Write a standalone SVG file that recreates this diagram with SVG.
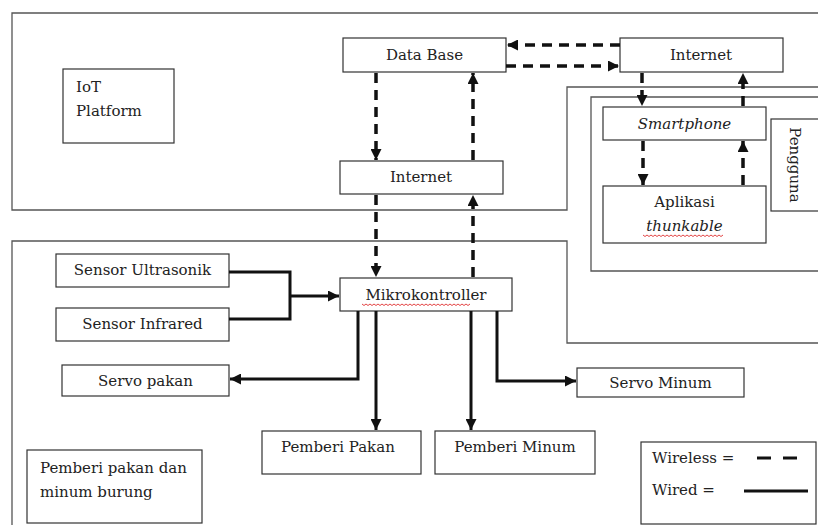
<svg xmlns="http://www.w3.org/2000/svg" width="818" height="525" viewBox="0 0 818 525">
<defs>
<style>
.box{fill:#fff;stroke:#333;stroke-width:1.2}
.frame{fill:none;stroke:#555;stroke-width:1.3}
.t{font-family:"DejaVu Serif","Liberation Serif",serif;font-size:15px;fill:#222}
.c{text-anchor:middle}
.i{font-style:italic}
.dash{fill:none;stroke:#111;stroke-width:3.5;stroke-dasharray:10 7}
.wire{fill:none;stroke:#111;stroke-width:3}
.wavy{fill:none;stroke:#e03030;stroke-width:0.9}
</style>
<marker id="ah" markerUnits="userSpaceOnUse" markerWidth="11" markerHeight="11" refX="10" refY="5" orient="auto" viewBox="0 0 10 10">
<path d="M0,0 L10,5 L0,10 z" fill="#111"/>
</marker>
</defs>

<g id="frames">
<path class="frame" d="M818,13 H12 V210 H567 V87 H818"/>
<path class="frame" d="M12,525 V241 H567 V343 H818"/>
<path class="frame" d="M818,97 H591 V271 H818"/>
</g>

<g id="iot-platform">
<rect class="box" x="63" y="69" width="111" height="74"/>
<text class="t" x="76" y="92">IoT</text>
<text class="t" x="76" y="116">Platform</text>
</g>

<g id="database">
<rect class="box" x="343" y="38" width="163" height="34"/>
<text class="t c" x="424.5" y="60">Data Base</text>
</g>

<g id="internet-top">
<rect class="box" x="620" y="38" width="163" height="34"/>
<text class="t c" x="701" y="60">Internet</text>
</g>

<g id="internet-mid">
<rect class="box" x="340" y="161" width="163" height="33"/>
<text class="t c" x="421" y="182">Internet</text>
</g>

<g id="mikrokontroller">
<rect class="box" x="340" y="278" width="172" height="33"/>
<text class="t c" x="426" y="300">Mikrokontroller</text>
<path class="wavy" d="M362,304 l2,1.5 l2,-1.5 l2,1.5 l2,-1.5 l2,1.5 l2,-1.5 l2,1.5 l2,-1.5 l2,1.5 l2,-1.5 l2,1.5 l2,-1.5 l2,1.5 l2,-1.5 l2,1.5 l2,-1.5 l2,1.5 l2,-1.5 l2,1.5 l2,-1.5 l2,1.5 l2,-1.5 l2,1.5 l2,-1.5 l2,1.5 l2,-1.5 l2,1.5 l2,-1.5 l2,1.5 l2,-1.5 l2,1.5 l2,-1.5 l2,1.5 l2,-1.5 l2,1.5 l2,-1.5 l2,1.5 l2,-1.5 l2,1.5 l2,-1.5 l2,1.5 l2,-1.5 l2,1.5 l2,-1.5 l2,1.5 l2,-1.5 l2,1.5 l2,-1.5 l2,1.5 l2,-1.5 l2,1.5 l2,-1.5 l2,1.5 l2,-1.5"/>
</g>

<g id="smartphone">
<rect class="box" x="603" y="107" width="163" height="33"/>
<text class="t c i" x="684.5" y="129">Smartphone</text>
</g>

<g id="aplikasi">
<rect class="box" x="603" y="186" width="163" height="57"/>
<text class="t c" x="684.5" y="207">Aplikasi</text>
<text class="t c i" x="684.5" y="231">thunkable</text>
<path class="wavy" d="M643,235 l2,1.5 l2,-1.5 l2,1.5 l2,-1.5 l2,1.5 l2,-1.5 l2,1.5 l2,-1.5 l2,1.5 l2,-1.5 l2,1.5 l2,-1.5 l2,1.5 l2,-1.5 l2,1.5 l2,-1.5 l2,1.5 l2,-1.5 l2,1.5 l2,-1.5 l2,1.5 l2,-1.5 l2,1.5 l2,-1.5 l2,1.5 l2,-1.5 l2,1.5 l2,-1.5 l2,1.5 l2,-1.5 l2,1.5 l2,-1.5 l2,1.5 l2,-1.5 l2,1.5 l2,-1.5 l2,1.5 l2,-1.5 l2,1.5 l2,-1.5"/>
</g>

<g id="pengguna">
<rect class="box" x="771" y="119" width="60" height="92"/>
<text class="t c" transform="translate(790,165) rotate(90)" x="0" y="0">Pengguna</text>
</g>

<g id="sensor-ultrasonik">
<rect class="box" x="56" y="254" width="173" height="33"/>
<text class="t c" x="142.5" y="275">Sensor Ultrasonik</text>
</g>

<g id="sensor-infrared">
<rect class="box" x="56" y="308" width="173" height="33"/>
<text class="t c" x="142.5" y="329">Sensor Infrared</text>
</g>

<g id="servo-pakan">
<rect class="box" x="62" y="365" width="167" height="31"/>
<text class="t c" x="145.5" y="386">Servo pakan</text>
</g>

<g id="servo-minum">
<rect class="box" x="577" y="368" width="167" height="29"/>
<text class="t c" x="660.5" y="388">Servo Minum</text>
</g>

<g id="pemberi-pakan">
<rect class="box" x="262" y="431" width="159" height="43"/>
<text class="t" x="281" y="452">Pemberi Pakan</text>
</g>

<g id="pemberi-minum">
<rect class="box" x="435" y="431" width="160" height="43"/>
<text class="t c" x="515" y="452">Pemberi Minum</text>
</g>

<g id="title-box">
<rect class="box" x="27" y="450" width="175" height="73"/>
<text class="t" x="40" y="473">Pemberi pakan dan</text>
<text class="t" x="40" y="497">minum burung</text>
</g>

<g id="legend">
<rect class="box" x="641" y="442" width="175" height="82"/>
<text class="t" x="652" y="463">Wireless =</text>
<text class="t" x="652" y="495">Wired =</text>
<path d="M757,458 H797" fill="none" stroke="#111" stroke-width="3" stroke-dasharray="14 12"/>
<path d="M744,491 H808" fill="none" stroke="#111" stroke-width="3"/>
</g>

<g id="connectors">
<path class="dash" d="M620,45 H507" marker-end="url(#ah)"/>
<path class="dash" d="M506,66 H619" marker-end="url(#ah)"/>
<path class="dash" d="M376,73 V160" marker-end="url(#ah)"/>
<path class="dash" d="M473,160 V73" marker-end="url(#ah)"/>
<path class="dash" d="M376,195 V277" marker-end="url(#ah)"/>
<path class="dash" d="M473,277 V195" marker-end="url(#ah)"/>
<path class="dash" d="M642,73 V106" marker-end="url(#ah)"/>
<path class="dash" d="M743,106 V73" marker-end="url(#ah)"/>
<path class="dash" d="M643,141 V185" marker-end="url(#ah)"/>
<path class="dash" d="M743,185 V141" marker-end="url(#ah)"/>
<path class="wire" d="M229,272 H290 V319 H229"/>
<path class="wire" d="M290,296 H339" marker-end="url(#ah)"/>
<path class="wire" d="M358,311 V379 H230" marker-end="url(#ah)"/>
<path class="wire" d="M376,311 V430" marker-end="url(#ah)"/>
<path class="wire" d="M471,311 V430" marker-end="url(#ah)"/>
<path class="wire" d="M497,311 V381 H576" marker-end="url(#ah)"/>
</g>
</svg>
